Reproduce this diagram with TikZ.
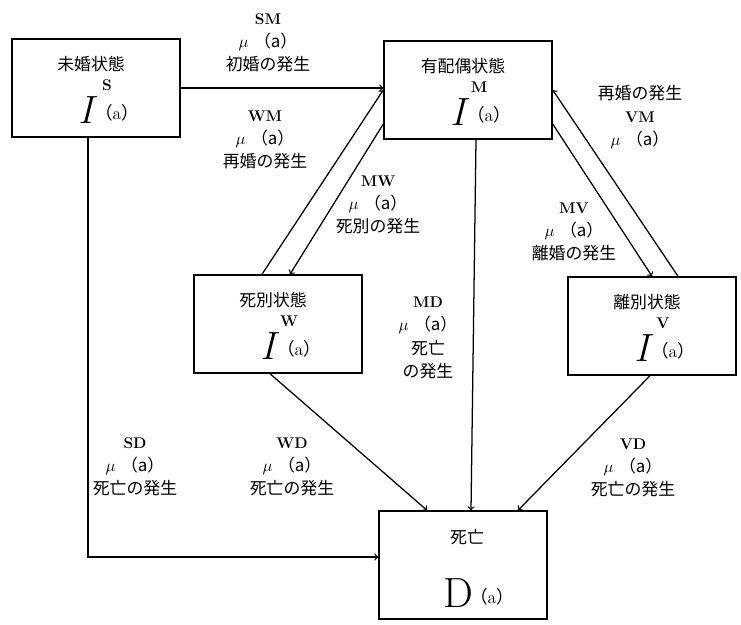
\documentclass[tikz,border=0pt]{standalone}
\usepackage{fontspec}
\newfontfamily\jp{Noto Sans CJK JP}
\usetikzlibrary{arrows,positioning}
\newcommand{\cd}[1]{{\fontsize{11}{11}\selectfont\bfseries #1}}

\begin{document}
\begin{tikzpicture}[x=0.025cm,y=-0.025cm,
		statebox/.style={draw,line width=1pt,minimum width=4.2cm,minimum height=2.45cm},
		rate/.style={align=center,font=\fontsize{12}{16.5}\selectfont},
		flow/.style={->,>=to,line width=0.9pt}]
	\useasboundingbox (0,0) rectangle (741,624);

	% states
	\node[statebox] (S) at (96,88) {};
	\node[statebox] (M) at (468,90) {};
	\node[statebox] (W) at (278,324) {};
	\node[statebox] (V) at (652,326) {};
	\node[statebox,minimum height=2.7cm] (D) at (463,565) {};

	\foreach \s/\t in {S/未婚状態,M/有配偶状態,W/死別状態,V/離別状態} {
		\node[font=\jp\fontsize{12}{12}\selectfont] (\s-t) at ([shift={(-5,-24)}]\s) {\t};
		\node (\s-k) at ([shift={(11,-3)}]\s) {\cd{\s}};
		\node[font=\fontsize{28}{28}\selectfont\itshape] (\s-i) at ([shift={(-10,22)}]\s) {I};
		\node[font=\fontsize{12.5}{12.5}\selectfont] (\s-a) at ([shift={(21,25)}]\s) {{\jp （}a{\jp ）}};
	}
	\node[font=\jp\fontsize{12}{12}\selectfont] (D-t) at ([shift={(4,-28)}]D) {死亡};
	\node[font=\fontsize{30}{30}\selectfont] (D-d) at ([shift={(-5,28)}]D) {D};
	\node[font=\fontsize{12.5}{12.5}\selectfont] (D-a) at ([shift={(29,32)}]D) {{\jp （}a{\jp ）}};

	% rates
	\node[rate] (SM) at (268,43) {\cd{SM}\\$\mu$\ {\jp （a）}\\{\jp 初婚の発生}};
	\node[rate] (WM) at (265,140) {\cd{WM}\\$\mu$\ {\jp （a）}\\{\jp 再婚の発生}};
	\node[rate] (MW) at (378,205) {\cd{MW}\\$\mu$\ {\jp （a）}\\{\jp 死別の発生}};
	\node[rate] (VM) at (640,117) {{\jp 再婚の発生}\\\cd{VM}\\$\mu$\ {\jp （a）}};
	\node[rate] (MV) at (574,232) {\cd{MV}\\$\mu$\ {\jp （a）}\\{\jp 離婚の発生}};
	\node[rate] (MD) at (428,338) {\cd{MD}\\$\mu$\ {\jp （a）}\\{\jp 死亡}\\{\jp の発生}};
	\node[rate] (SD) at (135,467) {\cd{SD}\\$\mu$\ {\jp （a）}\\{\jp 死亡の発生}};
	\node[rate] (WD) at (292,467) {\cd{WD}\\$\mu$\ {\jp （a）}\\{\jp 死亡の発生}};
	\node[rate] (VD) at (633,468) {\cd{VD}\\$\mu$\ {\jp （a）}\\{\jp 死亡の発生}};

	% flows
	\draw[flow] (S.east) -- (S.east -| M.west);
	\draw[flow] ([shift={(-16,0)}]W.north) -- (M.west);
	\draw[flow] ([shift={(0,34)}]M.west) -- ([shift={(12,0)}]W.north);
	\draw[flow] ([shift={(0,34)}]M.east) -- (V.north);
	\draw[flow] ([shift={(26,0)}]V.north) -- (M.east);
	\draw[flow] ([shift={(8,0)}]M.south) -- ([shift={(8,0)}]D.north);
	\draw[flow] ([shift={(-8,0)}]W.south) -- ([shift={(-36,0)}]D.north);
	\draw[flow] ([shift={(-2,0)}]V.south) -- ([shift={(55,0)}]D.north);
	\draw[flow] ([shift={(-8,0)}]S.south) |- ([shift={(0,-8)}]D.west);
\end{tikzpicture}
\end{document}
